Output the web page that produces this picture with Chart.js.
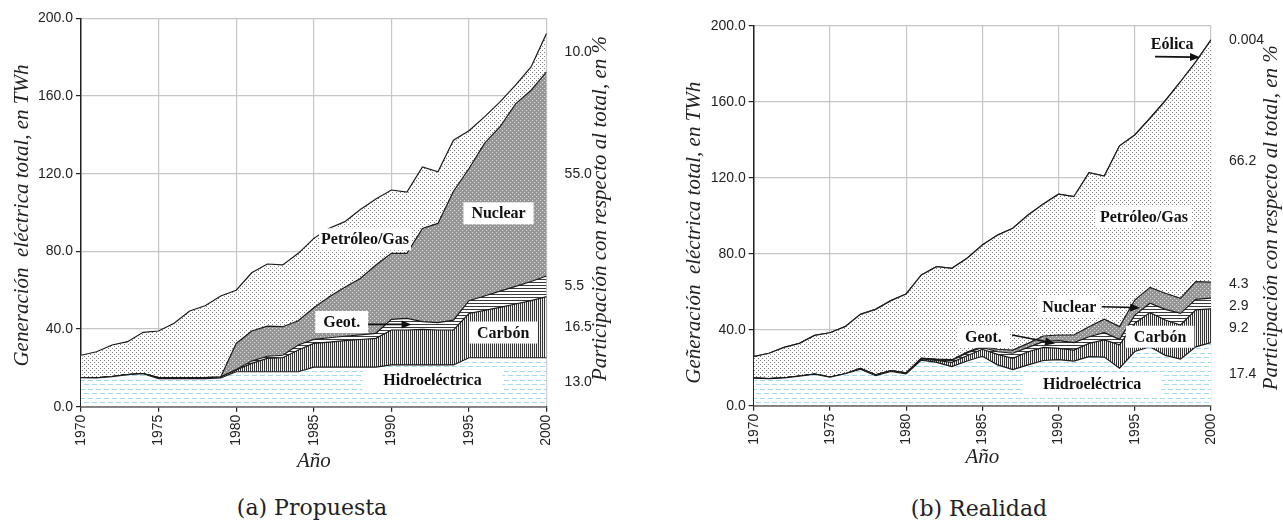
<!DOCTYPE html>
<html lang="es">
<head>
<meta charset="utf-8">
<title>Generación eléctrica total: propuesta y realidad</title>
<script src="https://cdn.jsdelivr.net/npm/chart.js@4.4.1/dist/chart.umd.min.js"></script>
<style>
  html, body { margin: 0; padding: 0; background: #fff; }
  #wrap { position: relative; width: 1283px; height: 521px; overflow: hidden; }
  canvas { position: absolute; top: 0; }
  #chartA { left: 0; }
  #chartB { left: 640px; }
  .caption {
    position: absolute;
    font-family: "DejaVu Serif", "Liberation Serif", serif;
    font-size: 22px;
    color: #222;
    white-space: nowrap;
    transform: translate(-50%, -50%);
  }
</style>
</head>
<body>
<div id="wrap">
  <canvas id="chartA" width="640" height="480" style="width:640px;height:480px"></canvas>
  <canvas id="chartB" width="643" height="480" style="width:643px;height:480px"></canvas>
  <div class="caption" style="left:312px; top:507px;">(a) Propuesta</div>
  <div class="caption" style="left:979px; top:508px;">(b) Realidad</div>
</div>
<script>
// --- Data (TWh per year) ---
const years = [1970, 1971, 1972, 1973, 1974, 1975, 1976, 1977, 1978, 1979,
               1980, 1981, 1982, 1983, 1984, 1985, 1986, 1987, 1988, 1989,
               1990, 1991, 1992, 1993, 1994, 1995, 1996, 1997, 1998, 1999, 2000];

// (a) Propuesta
const hidroA    = [15.0, 14.8, 15.5, 16.5, 17.0, 14.5, 14.5, 14.5, 14.5, 14.8,
                   18.0, 18.0, 18.0, 18.0, 18.0, 20.4, 20.4, 20.4, 20.4, 20.4,
                   21.5, 21.5, 21.5, 21.5, 21.5, 25.2, 25.2, 25.2, 25.2, 25.2, 25.2];
const carbonA   = [0, 0, 0, 0, 0, 0.5, 0.5, 0.5, 0.5, 0.5,
                   0.9, 4.3, 6.9, 7.2, 11.2, 12.2, 12.9, 13.6, 14.2, 14.8,
                   18.0, 18.0, 18.3, 18.0, 18.0, 22.8, 24.4, 26.0, 27.7, 29.4, 31.5];
const geotA     = [0, 0, 0, 0, 0, 0, 0, 0, 0, 0,
                   0.3, 1.2, 1.1, 1.3, 2.6, 2.1, 2.2, 2.3, 2.4, 2.6,
                   5.5, 6.0, 4.0, 3.8, 5.1, 6.6, 7.4, 8.3, 9.1, 9.9, 10.6];
const nuclearA  = [0, 0, 0, 0, 0, 0, 0, 0, 0, 0,
                   13.4, 15.5, 15.5, 14.7, 12.5, 16.3, 21.1, 25.2, 29.0, 35.2,
                   34.0, 33.5, 48.0, 51.1, 66.4, 68.1, 78.6, 84.7, 94.0, 98.5, 105.2];
const petroleoA = [11.5, 13.5, 16.3, 17.0, 21.3, 24.0, 28.0, 34.3, 37.0, 41.7,
                   27.4, 30.0, 32.0, 31.8, 34.7, 35.7, 35.3, 33.8, 35.6, 34.0,
                   32.6, 31.5, 31.7, 26.6, 26.3, 19.4, 13.7, 12.8, 9.6, 12.0, 19.8];
// shares in 2000, bottom to top
const sharesA = ['13.0', '16.5', '5.5', '55.0', '10.0'];

// (b) Realidad
const hidroB    = [14.5, 14.2, 14.6, 15.6, 16.6, 15.0, 16.8, 19.2, 15.8, 18.0,
                   16.8, 24.0, 22.8, 20.6, 23.5, 26.0, 21.5, 19.0, 21.5, 23.8,
                   24.2, 23.5, 25.8, 25.6, 19.7, 28.5, 31.0, 26.5, 24.5, 31.0, 33.2];
const carbonB   = [0, 0, 0, 0, 0, 0, 0, 0.5, 0.5, 0.5,
                   0.5, 0.6, 1.0, 2.2, 2.8, 3.7, 5.5, 5.9, 6.9, 6.9,
                   6.0, 5.8, 7.0, 9.0, 12.3, 14.9, 18.0, 18.6, 18.0, 19.4, 17.8];
const geotB     = [0, 0, 0, 0, 0, 0, 0, 0, 0, 0,
                   0, 0.3, 0.5, 1.0, 1.5, 1.0, 1.4, 2.7, 2.3, 3.0,
                   4.0, 3.9, 3.5, 3.8, 2.9, 4.3, 4.9, 5.6, 6.1, 5.6, 5.6];
const nuclearB  = [0, 0, 0, 0, 0, 0, 0, 0, 0, 0,
                   0, 0.2, 0.2, 0.4, 0.5, 0.7, 1.3, 1.7, 2.1, 3.0,
                   3.0, 4.0, 5.3, 7.1, 6.7, 7.9, 8.4, 8.5, 7.9, 9.3, 8.4];
const petroleoB = [11.3, 13.4, 16.1, 17.2, 20.4, 23.4, 24.8, 28.4, 34.4, 36.8,
                   41.5, 43.7, 48.7, 48.1, 49.3, 53.2, 60.1, 64.1, 67.6, 69.5,
                   74.1, 72.8, 81.0, 75.4, 95.2, 86.9, 89.0, 101.3, 114.0, 115.7, 127.5];
const eolicaB   = [0, 0, 0, 0, 0, 0, 0, 0, 0, 0,
                   0, 0, 0, 0, 0, 0, 0, 0, 0, 0,
                   0, 0, 0, 0, 0, 0, 0, 0, 0.005, 0.006, 0.008];
const sharesB = ['17.4', '9.2', '2.9', '4.3', '66.2', '0.004'];

const yTicks = [0, 40, 80, 120, 160, 200];

// --- Fill textures (like the hatching of the printed figure) ---
function makePattern(w, h, draw) {
    const c = document.createElement('canvas');
    c.width = w; c.height = h;
    const g = c.getContext('2d');
    draw(g, w, h);
    return g.createPattern(c, 'repeat');
}

const fills = {
    hidro: makePattern(8, 9, g => {
        g.fillStyle = '#ffffff'; g.fillRect(0, 0, 8, 9);
        g.fillStyle = '#a3daee';
        g.fillRect(0, 2, 5, 1);
        g.fillRect(4, 6, 4, 1);
        g.fillRect(0, 6, 1, 1);
    }),
    carbon: makePattern(2, 1, g => {
        g.fillStyle = '#f2f2f2'; g.fillRect(0, 0, 2, 1);
        g.fillStyle = '#333333'; g.fillRect(0, 0, 1, 1);
    }),
    geot: makePattern(1, 3, g => {
        g.fillStyle = '#ffffff'; g.fillRect(0, 0, 1, 3);
        g.fillStyle = '#3a3a3a'; g.fillRect(0, 0, 1, 1);
    }),
    nuclear: makePattern(4, 4, g => {
        g.fillStyle = '#969696'; g.fillRect(0, 0, 4, 4);
        g.fillStyle = '#dcdcdc';
        g.fillRect(0, 0, 1, 1);
        g.fillRect(2, 2, 1, 1);
    }),
    petroleo: makePattern(4, 4, g => {
        g.fillStyle = '#ffffff'; g.fillRect(0, 0, 4, 4);
        g.fillStyle = '#7c7c7c';
        g.fillRect(0, 0, 1, 1);
        g.fillRect(2, 2, 1, 1);
    }),
    eolica: '#ffffff'
};

const SERIF = '"Liberation Serif", "Times New Roman", serif';
const SANS = '"Liberation Sans", Arial, sans-serif';

// labels, arrows and side titles drawn on top of the areas
function decorPlugin(look) {
    return {
        id: 'decor',
        afterDatasetsDraw(chart) {
            const { ctx, scales: { x, y } } = chart;
            ctx.save();
            ctx.font = 'bold 16px ' + SERIF;
            ctx.textAlign = 'center';
            ctx.textBaseline = 'middle';
            look.notes.forEach(n => {
                const px = x.getPixelForValue(n.x);
                const py = y.getPixelForValue(n.y);
                const w = ctx.measureText(n.text).width;
                ctx.fillStyle = '#ffffff';
                ctx.fillRect(px - w / 2 - n.padX, py - 11, w + 2 * n.padX, 22);
                ctx.fillStyle = '#111111';
                ctx.fillText(n.text, px, py + 1);
            });
            look.arrows.forEach(r => {
                const x1 = x.getPixelForValue(r.from[0]), y1 = y.getPixelForValue(r.from[1]);
                const x2 = x.getPixelForValue(r.to[0]), y2 = y.getPixelForValue(r.to[1]);
                const a = Math.atan2(y2 - y1, x2 - x1);
                const c = Math.cos(a), s = Math.sin(a);
                ctx.strokeStyle = '#111111';
                ctx.lineWidth = 1.6;
                ctx.beginPath();
                ctx.moveTo(x1, y1);
                ctx.lineTo(x2 - 7 * c, y2 - 7 * s);
                ctx.stroke();
                ctx.fillStyle = '#111111';
                ctx.beginPath();
                ctx.moveTo(x2, y2);
                ctx.lineTo(x2 - 10 * c - 4 * s, y2 - 10 * s + 4 * c);
                ctx.lineTo(x2 - 10 * c + 4 * s, y2 - 10 * s - 4 * c);
                ctx.closePath();
                ctx.fill();
            });
            ctx.restore();
        },
        afterDraw(chart) {
            const { ctx, chartArea: a } = chart;
            const mid = (a.top + a.bottom) / 2;
            ctx.save();
            ctx.font = 'italic 21px ' + SERIF;
            ctx.fillStyle = '#222222';
            ctx.textAlign = 'center';
            ctx.textBaseline = 'middle';
            [[look.leftTitle, a.left - look.leftDx, mid + look.leftDy],
             [look.rightTitle, a.right + look.rightDx, mid + look.rightDy]].forEach(([t, tx, ty]) => {
                ctx.save();
                ctx.translate(tx, ty);
                ctx.rotate(-Math.PI / 2);
                ctx.fillText(t, 0, 0);
                ctx.restore();
            });
            ctx.restore();
        }
    };
}

// middle of each band in the last year, pushed apart so the labels do not collide
function shareTickValues(series, minGap) {
    let base = 0;
    const mids = series.map(s => {
        const v = s.values[s.values.length - 1];
        const m = base + v / 2;
        base += v;
        return m;
    });
    for (let pass = 0; pass < 30; pass++) {
        for (let i = 1; i < mids.length; i++) {
            const gap = mids[i] - mids[i - 1];
            if (gap < minGap) {
                const push = (minGap - gap) / 2;
                mids[i] += push;
                mids[i - 1] -= push;
            }
        }
    }
    return mids;
}

function makeChart(canvasId, series, shares, look) {
    const datasets = series.map((s, i) => ({
        label: s.name,
        data: s.values.map((v, k) => ({ x: years[k], y: v })),
        backgroundColor: s.fill,
        borderColor: '#1a1a1a',
        borderWidth: 1.2,
        pointRadius: 0,
        tension: 0,
        fill: i === 0 ? 'origin' : '-1'
    }));

    const mids = shareTickValues(series, 11.5);

    return new Chart(document.getElementById(canvasId), {
        type: 'line',
        data: { datasets },
        options: {
            responsive: false,
            animation: false,
            events: [],
            layout: { padding: { left: look.padLeft, top: look.padTop, right: 0, bottom: 0 } },
            plugins: { legend: { display: false }, tooltip: { enabled: false } },
            scales: {
                x: {
                    type: 'linear',
                    min: 1970,
                    max: 2000,
                    afterFit: s => { s.height = look.xHeight; },
                    ticks: {
                        stepSize: 5,
                        minRotation: 90,
                        maxRotation: 90,
                        padding: 3,
                        color: '#222',
                        font: { family: SANS, size: 14 },
                        callback: v => String(v)
                    },
                    grid: { color: '#c6c6c6', lineWidth: 1.2, tickColor: '#222', tickLength: 5 },
                    border: { color: '#222', width: 1.5 },
                    title: {
                        display: true,
                        text: 'Año',
                        color: '#222',
                        font: { family: SERIF, style: 'italic', size: 21 },
                        padding: { top: 0, bottom: look.xTitlePad }
                    }
                },
                y: {
                    stacked: true,
                    min: 0,
                    max: 200,
                    afterFit: s => { s.width = look.yWidth; },
                    afterBuildTicks: s => { s.ticks = yTicks.map(v => ({ value: v })); },
                    ticks: {
                        padding: 3,
                        color: '#222',
                        font: { family: SANS, size: 14 },
                        callback: v => v.toFixed(1)
                    },
                    grid: { color: '#c6c6c6', lineWidth: 1.2, tickColor: '#222', tickLength: 5 },
                    border: { color: '#222', width: 1.5 }
                },
                y2: {
                    position: 'right',
                    min: 0,
                    max: 200,
                    afterFit: s => { s.width = look.y2Width; },
                    afterBuildTicks: s => { s.ticks = mids.map(v => ({ value: v })); },
                    ticks: {
                        autoSkip: false,
                        padding: 10,
                        color: '#222',
                        font: { family: SANS, size: 14 },
                        callback: (v, i) => shares[i]
                    },
                    grid: { display: false },
                    border: { display: false }
                }
            }
        },
        plugins: [decorPlugin(look)]
    });
}

makeChart('chartA', [
    { name: 'Hidroeléctrica', values: hidroA, fill: fills.hidro },
    { name: 'Carbón', values: carbonA, fill: fills.carbon },
    { name: 'Geot.', values: geotA, fill: fills.geot },
    { name: 'Nuclear', values: nuclearA, fill: fills.nuclear },
    { name: 'Petróleo/Gas', values: petroleoA, fill: fills.petroleo }
], sharesA, {
    padLeft: 0, padTop: 18.3, yWidth: 81, y2Width: 93.4, xHeight: 73.3, xTitlePad: 5.7,
    leftTitle: 'Generación  eléctrica total, en TWh', leftDx: 59, leftDy: 3,
    rightTitle: 'Participación con respecto al total, en %', rightDx: 54, rightDy: -4,
    notes: [
        { text: 'Petróleo/Gas', x: 1988.3, y: 86.2, padX: 2 },
        { text: 'Nuclear', x: 1996.9, y: 99.6, padX: 8 },
        { text: 'Geot.', x: 1986.8, y: 43.6, padX: 8 },
        { text: 'Carbón', x: 1997.2, y: 38.2, padX: 8 },
        { text: 'Hidroeléctrica', x: 1992.65, y: 13.7, padX: 21 }
    ],
    arrows: [
        { from: [1988.5, 42.4], to: [1991.3, 42.4] }
    ]
});

makeChart('chartB', [
    { name: 'Hidroeléctrica', values: hidroB, fill: fills.hidro },
    { name: 'Carbón', values: carbonB, fill: fills.carbon },
    { name: 'Geot.', values: geotB, fill: fills.geot },
    { name: 'Nuclear', values: nuclearB, fill: fills.nuclear },
    { name: 'Petróleo/Gas', values: petroleoB, fill: fills.petroleo },
    { name: 'Eólica', values: eolicaB, fill: fills.eolica }
], sharesB, {
    padLeft: 33, padTop: 25.7, yWidth: 80.7, y2Width: 72, xHeight: 74.3, xTitlePad: 9.7,
    leftTitle: 'Geñeración  eléctrica total, en TWh', leftDx: 59, leftDy: 17,
    rightTitle: 'Participación con respecto al total, en %', rightDx: 60.7, rightDy: 2,
    notes: [
        { text: 'Eólica', x: 1997.45, y: 190.7, padX: 3 },
        { text: 'Petróleo/Gas', x: 1995.6, y: 99.2, padX: 4 },
        { text: 'Nuclear', x: 1990.7, y: 52.1, padX: 4 },
        { text: 'Geot.', x: 1985.07, y: 36.3, padX: 8 },
        { text: 'Carbón', x: 1996.66, y: 36.3, padX: 8 },
        { text: 'Hidroeléctrica', x: 1992.2, y: 11.4, padX: 20 }
    ],
    arrows: [
        { from: [1996.33, 183.7], to: [1999.28, 183.4] },
        { from: [1992.83, 52.1], to: [1995.35, 51.6] },
        { from: [1986.95, 37.2], to: [1989.77, 32.8] }
    ]
});
</script>
</body>
</html>
